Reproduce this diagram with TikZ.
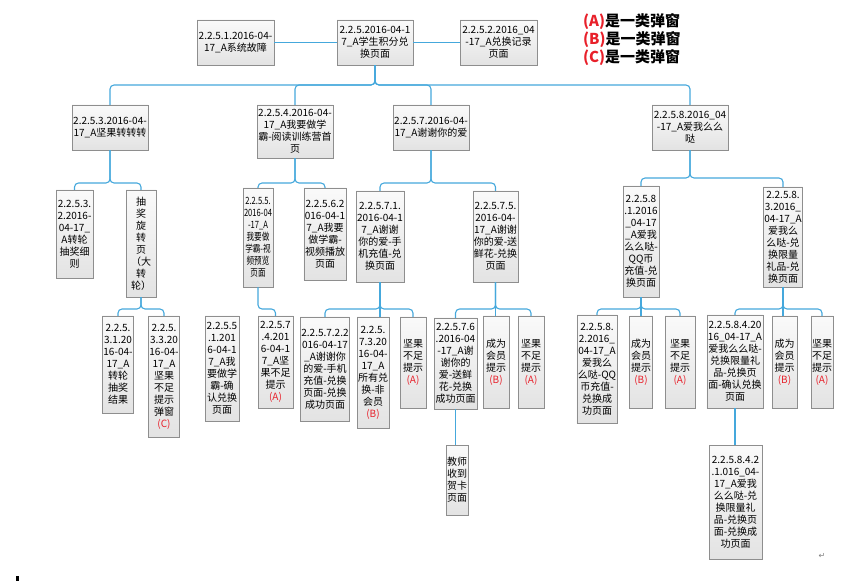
\documentclass[tikz,border=0pt]{standalone}
\usepackage{fontspec}
\setmainfont{Noto Sans CJK SC}
\newfontfamily\narrowfont{Noto Sans CJK SC}[FakeStretch=0.76]
\newfontfamily\symfont{DejaVu Sans}
\usepackage{tikz}

\definecolor{linkblue}{HTML}{45A8DC}
\definecolor{boxline}{HTML}{8E8E8E}
\definecolor{popred}{HTML}{E8202A}
\newcommand{\pop}[1]{\textcolor{popred}{(#1)}}
\tikzset{wh/.style 2 args={minimum width=#1pt,minimum height=#2pt}}

\begin{document}
\begin{tikzpicture}[x=1pt,y=-1pt]
  \tikzstyle{card}=[draw=boxline,top color=gray!4,bottom color=gray!22,align=center,inner sep=1pt,font=\fontsize{10}{12}\selectfont]
  \tikzstyle{link}=[draw=linkblue,line width=1.1pt,rounded corners=4pt]
  \useasboundingbox (0,0) rectangle (865,585);

  % top row
  \node[card,wh={77}{45}] (sys) at (235.5,42.5) {2.2.5.1.2016-04-\\17\_A系统故障};
  \node[card,wh={76}{45}] (root) at (375,42.5) {2.2.5.2016-04-1\\7\_A学生积分兑\\换页面};
  \node[card,wh={77}{45}] (rec) at (498.5,42.5) {2.2.5.2.2016\_04\\-17\_A兑换记录\\页面};

  \node[anchor=west,align=left,inner sep=0pt,font=\fontsize{15}{18}\selectfont\bfseries] (legend) at (583,40)
    {\pop{A}是一类弹窗\\\pop{B}是一类弹窗\\\pop{C}是一类弹窗};

  % second row
  \node[card,wh={76}{45}] (nut) at (110,127.5) {2.2.5.3.2016-04-\\17\_A坚果转转转};
  \node[card,wh={76}{53}] (xueba) at (295,131.5) {2.2.5.4.2016-04-\\17\_A我要做学\\霸-阅读训练营首\\页};
  \node[card,wh={76}{45}] (thanks) at (431,127.5) {2.2.5.7.2016-04-\\17\_A谢谢你的爱};
  \node[card,wh={76}{45}] (love) at (690,127.5) {2.2.5.8.2016\_04\\-17\_A爱我么么\\哒};

  % third row
  \node[card,wh={37}{88}] (rules) at (74.5,234) {2.2.5.3.\\2.2016-\\04-17\_\\A转轮\\抽奖细\\则};
  \node[card,wh={30}{107}] (wheel) at (141,243.5) {抽\\奖\\旋\\转\\页\\（大\\转\\轮）};
  \node[card,wh={28}{99},font=\narrowfont\fontsize{10}{12}\selectfont] (preview) at (258,237.5) {2.2.5.5.\\2016-04\\-17\_A\\我要做\\学霸-视\\频预览\\页面};
  \node[card,wh={42}{92}] (play) at (325,234) {2.2.5.6.2\\016-04-1\\7\_A我要\\做学霸-\\视频播放\\页面};
  \node[card,wh={48}{91}] (phone) at (380,236.5) {2.2.5.7.1.\\2016-04-1\\7\_A谢谢\\你的爱-手\\机充值-兑\\换页面};
  \node[card,wh={45}{91}] (flower) at (495.5,236.5) {2.2.5.7.5.\\2016-04-\\17\_A谢谢\\你的爱-送\\鲜花-兑换\\页面};
  \node[card,wh={36}{111}] (qq) at (641,241.5) {2.2.5.8\\.1.2016\\\_04-17\\\_A爱我\\么么哒-\\QQ币\\充值-兑\\换页面};
  \node[card,wh={38}{100}] (gift) at (783,237) {2.2.5.8.\\3.2016\_\\04-17\_A\\爱我么\\么哒-兑\\换限量\\礼品-兑\\换页面};

  % fourth row
  \node[card,wh={30}{97}] (result) at (118,364.5) {2.2.5.\\3.1.20\\16-04-\\17\_A\\转轮\\抽奖\\结果};
  \node[card,wh={30}{121}] (nutpop) at (164,376.5) {2.2.5.\\3.3.20\\16-04-\\17\_A\\坚果\\不足\\提示\\弹窗\\\pop{C}};
  \node[card,wh={34}{105}] (confirm) at (222,368.5) {2.2.5.5\\.1.201\\6-04-1\\7\_A我\\要做学\\霸-确\\认兑换\\页面};
  \node[card,wh={35}{92}] (lowA) at (275.5,362) {2.2.5.7\\.4.201\\6-04-1\\7\_A坚\\果不足\\提示\\\pop{A}};
  \node[card,wh={48}{104}] (phoneok) at (325,369) {2.2.5.7.2.2\\016-04-17\\\_A谢谢你\\的爱-手机\\充值-兑换\\页面-兑换\\成功页面};
  \node[card,wh={32}{111}] (nonvip) at (373,372.5) {2.2.5.\\7.3.20\\16-04-\\17\_A\\所有兑\\换-非\\会员\\\pop{B}};
  \node[card,wh={26}{91}] (lowB) at (413,362.5) {坚果\\不足\\提示\\\pop{A}};
  \node[card,wh={43}{91}] (flowerok) at (455.5,363.5) {2.2.5.7.6\\.2016-04\\-17\_A谢\\谢你的\\爱-送鲜\\花-兑换\\成功页面};
  \node[card,wh={26}{92}] (vipC) at (496,362) {成为\\会员\\提示\\\pop{B}};
  \node[card,wh={26}{92}] (lowC) at (531,362) {坚果\\不足\\提示\\\pop{A}};
  \node[card,wh={40}{108}] (qqok) at (597,369) {2.2.5.8.\\2.2016\_\\04-17\_A\\爱我么\\么哒-QQ\\币充值-\\兑换成\\功页面};
  \node[card,wh={23}{92}] (vipD) at (641,362) {成为\\会员\\提示\\\pop{B}};
  \node[card,wh={30}{92}] (lowD) at (680,362) {坚果\\不足\\提示\\\pop{A}};
  \node[card,wh={56}{93}] (giftcf) at (735,361.5) {2.2.5.8.4.20\\16\_04-17\_A\\爱我么么哒-\\兑换限量礼\\品-兑换页\\面-确认兑换\\页面};
  \node[card,wh={25}{92}] (vipE) at (784.5,362) {成为\\会员\\提示\\\pop{B}};
  \node[card,wh={22}{92}] (lowE) at (822,362) {坚果\\不足\\提示\\\pop{A}};

  % fifth row
  \node[card,wh={22}{70}] (card) at (457,480) {教师\\收到\\贺卡\\页面};
  \node[card,wh={53}{114}] (giftok) at (735.5,502) {2.2.5.8.4.2\\.1.016\_04-\\17\_A爱我\\么么哒-兑\\换限量礼\\品-兑换页\\面-兑换成\\功页面};

  % bus levels
  \coordinate (b1) at (0,85);
  \coordinate (b2) at (0,183);
  \coordinate (b2r) at (0,178);
  \coordinate (b3) at (0,309);

  \draw[link] (sys) -- (root);
  \draw[link] (root) -- (rec);

  \draw[link] (root.south) |- (nut.north |- b1) -- (nut.north);
  \draw[link] (root.south) |- (xueba.north |- b1) -- (xueba.north);
  \draw[link] (root.south) |- (thanks.north |- b1) -- (thanks.north);
  \draw[link] (root.south) |- (love.north |- b1) -- (love.north);

  \draw[link] (nut.south) |- (rules.north |- b2) -- (rules.north);
  \draw[link] (nut.south) |- (wheel.north |- b2) -- (wheel.north);
  \draw[link] (xueba.south) |- (preview.north |- b2) -- (preview.north);
  \draw[link] (xueba.south) |- (play.north |- b2) -- (play.north);
  \draw[link] (thanks.south) |- (phone.north |- b2) -- (phone.north);
  \draw[link] (thanks.south) |- (flower.north |- b2) -- (flower.north);
  \draw[link] (love.south) |- (qq.north |- b2r) -- (qq.north);
  \draw[link] (love.south) |- (gift.north |- b2r) -- (gift.north);

  \draw[link] (wheel.south) |- (result.north |- b3) -- (result.north);
  \draw[link] (wheel.south) |- (nutpop.north |- b3) -- (nutpop.north);
  \draw[link] (preview.south) |- (lowA.north |- b3) -- (lowA.north);
  \draw[link] (phone.south) |- (phoneok.north |- b3) -- (phoneok.north);
  \draw[link] (phone.south) -- (phone.south |- nonvip.north);
  \draw[link] (phone.south) |- (lowB.north |- b3) -- (lowB.north);
  \draw[link] (flower.south) |- (flowerok.north |- b3) -- (flowerok.north);
  \draw[link] (flower.south) -- (flower.south |- vipC.north);
  \draw[link] (flower.south) |- (lowC.north |- b3) -- (lowC.north);
  \draw[link] (qq.south) |- (qqok.north |- b3) -- (qqok.north);
  \draw[link] (qq.south) -- (qq.south |- vipD.north);
  \draw[link] (qq.south) |- (lowD.north |- b3) -- (lowD.north);
  \draw[link] (gift.south) |- (giftcf.north |- b3) -- (giftcf.north);
  \draw[link] (gift.south) -- (gift.south |- vipE.north);
  \draw[link] (gift.south) |- (lowE.north |- b3) -- (lowE.north);

  \draw[link] (flowerok.south) -- (flowerok.south |- card.north);
  \draw[link] (giftcf.south) -- (giftcf.south |- giftok.north);

  % stray marks of the page
  \fill (16,576) rectangle (19,581);
  \node[font=\symfont\fontsize{8}{8}\selectfont,text=gray,inner sep=0pt] (ret) at (822,556) {↵};
\end{tikzpicture}
\end{document}
